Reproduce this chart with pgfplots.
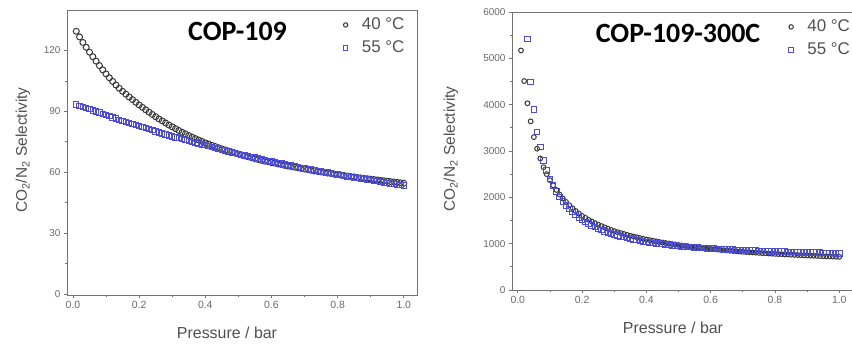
\documentclass[border=0pt]{standalone}
\usepackage{pgfplots}
\pgfplotsset{compat=1.18}
\usepackage{fontspec}
\setmainfont{Liberation Sans}
\newfontfamily\titlefont{Carlito}
\definecolor{axgray}{RGB}{115,115,115}
\definecolor{txtgray}{RGB}{80,80,80}
\definecolor{tickgray}{RGB}{105,105,105}
\definecolor{mkblack}{RGB}{55,55,55}
\definecolor{mkblue}{RGB}{75,75,220}
\pgfplotsset{
  panel/.style={
    scale only axis, anchor=south west,
    axis line style={axgray, line width=0.9bp},
    every tick/.style={axgray, line width=0.8bp},
    tick align=outside, xtick pos=left, ytick pos=left,
    major tick length=3bp, minor tick length=2bp,
    minor x tick num=1, minor y tick num=1,
    xmin=-0.018,
    xtick={0,0.2,0.4,0.6,0.8,1.0},
    /pgf/number format/assume math mode=true,
    scaled ticks=false,
    xticklabel style={font=\fontsize{10.5}{12}\selectfont, text=tickgray, /pgf/number format/.cd, fixed, fixed zerofill, precision=1},
    yticklabel style={font=\fontsize{10}{12}\selectfont, text=tickgray, /pgf/number format/.cd, fixed, 1000 sep={}},
    legend style={draw=none, fill=none, font=\fontsize{17}{20}\selectfont, text=txtgray, anchor=north west, row sep=6bp,
      nodes={inner sep=1bp, text height=12bp, text depth=3bp}},
    legend cell align=left,
    legend image code/.code={\draw[mark size=2.2bp] plot coordinates {(0bp,0bp)}; \path (-4bp,0bp) (15bp,0bp);},
  },
  blk/.style={only marks, mark=o, mark size=3bp, mark options={mkblack, line width=1bp}},
  blu/.style={only marks, mark=square, mark size=2.7bp, mark options={mkblue, line width=1bp}},
}
\begin{document}
\begin{tikzpicture}
\useasboundingbox (0,0) rectangle (852bp,347bp);
% ---------------- left panel ----------------
\begin{axis}[panel, at={(67bp,52bp)}, width=350bp, height=285bp, xmax=1.04,
  ymin=-0.5, ymax=140, ytick={0,30,60,90,120},
  legend style={at={(0.775,0.985)}}]
\addplot[blk] coordinates {
(0.01,129.5)(0.02,126.7)(0.03,124.0)(0.04,121.6)(0.05,119.2)(0.06,117.0)(0.07,114.8)(0.08,112.6)(0.09,110.5)(0.10,108.5)
(0.11,106.6)(0.12,104.8)(0.13,103.0)(0.14,101.4)(0.15,99.9)(0.16,98.5)(0.17,97.1)(0.18,95.8)(0.19,94.5)(0.20,93.2)
(0.21,92.0)(0.22,90.8)(0.23,89.6)(0.24,88.5)(0.25,87.4)(0.26,86.3)(0.27,85.3)(0.28,84.3)(0.29,83.3)(0.30,82.4)
(0.31,81.5)(0.32,80.6)(0.33,79.7)(0.34,78.9)(0.35,78.1)(0.36,77.3)(0.37,76.6)(0.38,75.9)(0.39,75.2)(0.40,74.5)
(0.41,73.9)(0.42,73.3)(0.43,72.7)(0.44,72.1)(0.45,71.5)(0.46,71.0)(0.47,70.5)(0.48,70.0)(0.49,69.5)(0.50,69.0)
(0.51,68.5)(0.52,68.1)(0.53,67.6)(0.54,67.2)(0.55,66.7)(0.56,66.3)(0.57,65.9)(0.58,65.5)(0.59,65.2)(0.60,64.8)
(0.61,64.5)(0.62,64.1)(0.63,63.8)(0.64,63.4)(0.65,63.1)(0.66,62.8)(0.67,62.5)(0.68,62.2)(0.69,61.9)(0.70,61.6)
(0.71,61.3)(0.72,61.0)(0.73,60.7)(0.74,60.4)(0.75,60.2)(0.76,59.9)(0.77,59.6)(0.78,59.4)(0.79,59.1)(0.80,58.9)
(0.81,58.6)(0.82,58.4)(0.83,58.1)(0.84,57.9)(0.85,57.7)(0.86,57.4)(0.87,57.2)(0.88,57.0)(0.89,56.8)(0.90,56.6)
(0.91,56.4)(0.92,56.2)(0.93,56.0)(0.94,55.8)(0.95,55.6)(0.96,55.4)(0.97,55.2)(0.98,55.0)(0.99,54.8)(1.00,54.6)};
\addlegendentry{40 °C}
\addplot[blu] coordinates {
(0.01,93.4)(0.02,92.8)(0.03,92.2)(0.04,91.7)(0.05,91.1)(0.06,90.5)(0.07,89.9)(0.08,89.4)(0.09,88.8)(0.10,88.2)
(0.11,87.6)(0.12,87.1)(0.13,86.5)(0.14,85.9)(0.15,85.4)(0.16,84.8)(0.17,84.3)(0.18,83.7)(0.19,83.2)(0.20,82.7)
(0.21,82.2)(0.22,81.7)(0.23,81.2)(0.24,80.7)(0.25,80.2)(0.26,79.7)(0.27,79.2)(0.28,78.7)(0.29,78.2)(0.30,77.7)
(0.31,77.2)(0.32,76.8)(0.33,76.3)(0.34,75.9)(0.35,75.4)(0.36,75.0)(0.37,74.6)(0.38,74.1)(0.39,73.7)(0.40,73.3)
(0.41,72.9)(0.42,72.4)(0.43,72.0)(0.44,71.6)(0.45,71.1)(0.46,70.7)(0.47,70.3)(0.48,69.8)(0.49,69.4)(0.50,69.0)
(0.51,68.6)(0.52,68.3)(0.53,67.9)(0.54,67.5)(0.55,67.2)(0.56,66.8)(0.57,66.4)(0.58,66.0)(0.59,65.7)(0.60,65.3)
(0.61,65.0)(0.62,64.6)(0.63,64.3)(0.64,63.9)(0.65,63.6)(0.66,63.3)(0.67,62.9)(0.68,62.6)(0.69,62.2)(0.70,61.9)
(0.71,61.6)(0.72,61.3)(0.73,61.0)(0.74,60.7)(0.75,60.4)(0.76,60.1)(0.77,59.8)(0.78,59.5)(0.79,59.2)(0.80,58.9)
(0.81,58.6)(0.82,58.3)(0.83,58.0)(0.84,57.8)(0.85,57.5)(0.86,57.2)(0.87,56.9)(0.88,56.6)(0.89,56.4)(0.90,56.1)
(0.91,55.8)(0.92,55.6)(0.93,55.3)(0.94,55.0)(0.95,54.8)(0.96,54.5)(0.97,54.3)(0.98,54.0)(0.99,53.8)(1.00,53.5)};
\addlegendentry{55 °C}
\end{axis}
% ---------------- right panel ----------------
\begin{axis}[panel, at={(512bp,57bp)}, width=344bp, height=278bp, xmax=1.052,
  ymin=0, ymax=6000, ytick={0,1000,2000,3000,4000,5000,6000},
  legend style={at={(0.79,0.985)}}]
\addplot[blk, mark size=2.4bp] coordinates {
(0.01,5170)(0.02,4510)(0.03,4030)(0.04,3640)(0.05,3300)(0.06,3050)(0.07,2840)(0.08,2650)(0.09,2500)(0.10,2370)
(0.11,2260)(0.12,2160)(0.13,2060)(0.14,1975)(0.15,1900)(0.16,1830)(0.17,1765)(0.18,1705)(0.19,1650)(0.20,1600)
(0.21,1557)(0.22,1516)(0.23,1478)(0.24,1443)(0.25,1410)(0.26,1380)(0.27,1351)(0.28,1324)(0.29,1296)(0.30,1270)
(0.31,1249)(0.32,1228)(0.33,1208)(0.34,1189)(0.35,1170)(0.36,1153)(0.37,1137)(0.38,1121)(0.39,1105)(0.40,1090)
(0.41,1076)(0.42,1063)(0.43,1050)(0.44,1037)(0.45,1025)(0.46,1014)(0.47,1003)(0.48,992)(0.49,981)(0.50,970)
(0.51,961)(0.52,952)(0.53,943)(0.54,934)(0.55,926)(0.56,918)(0.57,910)(0.58,902)(0.59,893)(0.60,885)
(0.61,879)(0.62,873)(0.63,866)(0.64,860)(0.65,854)(0.66,848)(0.67,842)(0.68,836)(0.69,830)(0.70,825)
(0.71,820)(0.72,815)(0.73,811)(0.74,806)(0.75,802)(0.76,797)(0.77,793)(0.78,788)(0.79,784)(0.80,780)
(0.81,776)(0.82,773)(0.83,769)(0.84,766)(0.85,762)(0.86,759)(0.87,755)(0.88,752)(0.89,748)(0.90,745)
(0.91,742)(0.92,739)(0.93,736)(0.94,733)(0.95,730)(0.96,727)(0.97,724)(0.98,721)(0.99,718)(1.00,715)};
\addlegendentry{40 °C}
\addplot[blu, mark size=2.8bp] coordinates {
(0.03,5420)(0.04,4490)(0.05,3890)(0.06,3410)(0.07,3085)(0.08,2800)(0.09,2580)(0.10,2400)
(0.11,2250)(0.12,2120)(0.13,2010)(0.14,1910)(0.15,1825)(0.16,1750)(0.17,1683)(0.18,1622)(0.19,1566)(0.20,1515)
(0.21,1470)(0.22,1429)(0.23,1391)(0.24,1356)(0.25,1324)(0.26,1295)(0.27,1268)(0.28,1243)(0.29,1219)(0.30,1197)
(0.31,1177)(0.32,1158)(0.33,1140)(0.34,1123)(0.35,1107)(0.36,1092)(0.37,1078)(0.38,1065)(0.39,1052)(0.40,1040)
(0.41,1029)(0.42,1018)(0.43,1008)(0.44,998)(0.45,989)(0.46,980)(0.47,972)(0.48,964)(0.49,956)(0.50,949)
(0.51,942)(0.52,936)(0.53,930)(0.54,924)(0.55,918)(0.56,913)(0.57,908)(0.58,903)(0.59,898)(0.60,894)
(0.61,890)(0.62,886)(0.63,882)(0.64,878)(0.65,875)(0.66,872)(0.67,868)(0.68,865)(0.69,862)(0.70,859)
(0.71,856)(0.72,853)(0.73,851)(0.74,848)(0.75,845)(0.76,843)(0.77,840)(0.78,838)(0.79,835)(0.80,833)
(0.81,831)(0.82,828)(0.83,826)(0.84,824)(0.85,822)(0.86,819)(0.87,817)(0.88,815)(0.89,813)(0.90,811)
(0.91,809)(0.92,807)(0.93,805)(0.94,803)(0.95,801)(0.96,799)(0.97,797)(0.98,795)(0.99,793)(1.00,791)};
\addlegendentry{55 °C}
\end{axis}
% ---------------- titles and axis labels ----------------
\node[font=\titlefont\bfseries\fontsize{28}{30}\selectfont, text=black] at (237.5bp,316bp) {COP-109};
\node[font=\titlefont\bfseries\fontsize{28}{30}\selectfont, text=black] at (678bp,314bp) {COP-109-300C};
\node[font=\fontsize{16}{18}\selectfont, text=txtgray] at (227bp,14bp) {Pressure / bar};
\node[font=\fontsize{16}{18}\selectfont, text=txtgray] at (673bp,19.5bp) {Pressure / bar};
\node[font=\fontsize{15.5}{18}\selectfont, text=txtgray, rotate=90] at (23bp,197bp) {CO\textsubscript{2}/N\textsubscript{2} Selectivity};
\node[font=\fontsize{15.5}{18}\selectfont, text=txtgray, rotate=90] at (451bp,198bp) {CO\textsubscript{2}/N\textsubscript{2} Selectivity};
\end{tikzpicture}
\end{document}
